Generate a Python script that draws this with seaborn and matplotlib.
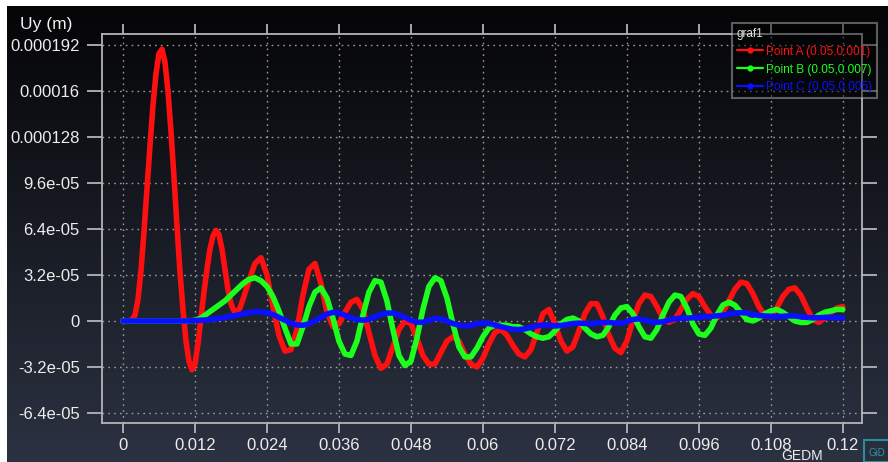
import numpy as np
import pandas as pd
import matplotlib
matplotlib.use("Agg")
import matplotlib.pyplot as plt
from matplotlib.lines import Line2D
from matplotlib.patches import Rectangle
import seaborn as sns

# ---- data: time in ms, vertical displacement in micrometres ----
time_a_ms = [0, 1, 1.5, 2, 2.5, 3, 3.5, 4, 4.5, 5, 5.5, 6, 6.5, 7, 7.5, 8, 8.5, 9, 9.5, 10,
             10.5, 11, 11.5, 12, 12.5, 13, 13.5, 14, 14.5, 15, 15.5, 16, 16.5, 17, 17.5, 18,
             18.5, 19, 19.5, 20, 21, 22, 23, 24, 25, 26, 27, 28, 29, 30, 31, 32, 33, 34, 35,
             36, 37, 38, 39, 40, 41, 42, 43, 44, 45, 46, 47, 48, 49, 50, 51, 52, 53, 54, 55,
             56, 57, 58, 59, 60, 61, 62, 63, 64, 65, 66, 67, 68, 69, 70, 71, 72, 73, 74, 75,
             76, 77, 78, 79, 80, 81, 82, 83, 84, 85, 86, 87, 88, 89, 90, 91, 92, 93, 94, 95,
             96, 97, 98, 99, 100, 101, 102, 103, 104, 105, 106, 107, 108, 109, 110, 111, 112,
             113, 114, 115, 116, 117, 118, 119, 120]
uy_a_um = [0, 0, 1, 4, 15, 35, 62, 92, 122, 150, 172, 186, 189, 180, 160, 132, 100, 66, 34, 8,
           -14, -28, -34, -30, -16, 2, 20, 36, 50, 59, 63, 60, 50, 36, 22, 12,
           7, 6, 9, 15, 28, 40, 44, 32, 10, -10, -21, -20, -6, 18, 36, 40, 26, 6, -4,
           -2, 6, 13, 15, 8, -8, -24, -33, -30, -18, -6, 0, -2, -12, -24, -30, -30, -22, -14, -11,
           -14, -23, -30, -32, -26, -16, -8, -6, -10, -17, -23, -25, -20, -8, 5, 8, -2, -14, -21, -18,
           -7, 5, 12, 12, 3, -10, -19, -22, -14, 0, 12, 18, 17, 10, 2, -1, 1, 8, 15, 19,
           17, 10, 4, 2, 6, 14, 22, 27, 26, 19, 10, 4, 3, 9, 17, 22, 23,
           18, 9, 1, -1, 2, 6, 9, 10]

time_b_ms = list(range(0, 121))
uy_b_um = [0, 0, 0, 0, 0, 0, 0, 0, 0, 0, 0, 0, 0.5, 2, 5, 8, 11, 14, 18, 22,
           26, 29, 30, 28, 24, 17, 7, -5, -16, -16, -4, 10, 20, 23, 16, 2, -14, -23, -24, -14,
           4, 20, 28, 27, 14, -6, -24, -31, -28, -12, 8, 24, 30, 28, 16, -2, -18, -25, -25, -19,
           -11, -5, -3, -3, -3, -4, -4, -6, -9, -11, -12, -11, -7, -2, 1, 2, 0, -5, -9, -11,
           -10, -4, 4, 9, 10, 5, -4, -11, -12, -6, 4, 13, 18, 17, 9, -2, -9, -10, -5, 4,
           11, 13, 11, 6, 1, 0, 2, 5, 7, 8, 6, 3, 0, -1, -1, 1, 4, 6, 7, 8, 8]

time_c_ms = list(range(0, 121))
uy_c_um = [0, 0, 0, 0, 0, 0, 0, 0, 0, 0, 0, 0, 0.3, 0.5, 0.8, 1.2, 1.8, 2.5, 3.2, 4,
           5, 5.8, 6.3, 6.3, 5.8, 4.5, 2.5, 0.5, -1.5, -2.8, -3, -2, 0, 2.5, 4.8, 6, 5.5, 4, 2.2, 1,
           0.5, 1.2, 2.8, 4.5, 5.5, 5.5, 4.2, 2.5, 0.5, -0.8, -1, 0.5, 1.8, 1.5, 0, -1.8, -3, -3.5, -3, -2,
           -1.5, -1.8, -2.8, -4, -5, -5.8, -6, -5.5, -4.5, -3.5, -2.8, -3, -3.5, -3.2, -2.5, -1.8, -1.5, -1.8, -2, -1.5,
           -1, -1, -1.5, -1.5, -0.5, 1, 1.5, 0.5, -0.5, -1, -0.5, 0.5, 1.5, 2, 2, 2.2, 2.5, 3, 3.2, 3.5,
           4, 4.8, 5.5, 5.8, 5.5, 4.5, 3.8, 3.5, 3.2, 3, 3.2, 3.5, 3.5, 3, 2.5, 2.2, 2.2, 2.5, 2.5, 2.2, 2]

series_names = ["Point A (0.05,0.001)", "Point B (0.05,0.007)", "Point C (0.05,0.005)"]
series_colors = ["#ff1010", "#1cff1c", "#0a10ff"]

x_tick_labels = ["0", "0.012", "0.024", "0.036", "0.048", "0.06", "0.072",
                 "0.084", "0.096", "0.108", "0.12"]
y_tick_labels = ["-6.4e-05", "-3.2e-05", "0", "3.2e-05", "6.4e-05", "9.6e-05",
                 "0.000128", "0.00016", "0.000192"]

# ---- long-form table ----
frames = []
for name, t, u in zip(series_names,
                      [time_a_ms, time_b_ms, time_c_ms],
                      [uy_a_um, uy_b_um, uy_c_um]):
    frames.append(pd.DataFrame({"t": np.array(t) / 1000.0,
                                "uy": np.array(u) * 1e-6,
                                "point": name}))
df = pd.concat(frames, ignore_index=True)

sns.set_theme(style="dark")
plt.rcParams["font.family"] = ["Liberation Sans", "DejaVu Sans"]

W, H = 888, 462
fig = plt.figure(figsize=(W / 100, H / 100), dpi=100)
fig.patch.set_facecolor("white")

# dark vertical gradient panel
bg = fig.add_axes([7 / W, 0, (W - 7) / W, (H - 6) / H], zorder=-10)
grad = np.linspace(0, 1, 256)[:, None]
top = np.array([0.02, 0.02, 0.027])
bottom = np.array([0.17, 0.195, 0.255])
img = top[None, None, :] * (1 - grad[..., None]) + bottom[None, None, :] * grad[..., None]
img = np.repeat(img, 4, axis=1)
bg.imshow(img, aspect="auto", extent=[0, 1, 0, 1], origin="upper")
bg.set_axis_off()

ax = fig.add_axes([102 / W, (H - 423) / H, 760 / W, 389 / H])
ax.set_facecolor("none")

sns.lineplot(data=df, x="t", y="uy", hue="point", palette=series_colors,
             hue_order=series_names, estimator=None, sort=False,
             linewidth=4.0, legend=False, ax=ax, zorder=3)
for ln in ax.get_lines():
    ln.set_solid_joinstyle("round")
    ln.set_solid_capstyle("round")

ax.set_xlim(-0.0035, 0.1232)
ax.set_ylim(-7.1e-5, 1.9965e-4)
ax.set_xticks([float(s) for s in x_tick_labels])
ax.set_xticklabels(x_tick_labels)
ax.set_yticks([float(s) for s in y_tick_labels])
ax.set_yticklabels(y_tick_labels)
ax.set_xlabel("")
ax.set_ylabel("")

spine_c = "#b4b4b8"
for sp in ax.spines.values():
    sp.set_visible(True)
    sp.set_color(spine_c)
    sp.set_linewidth(1.3)

ax.tick_params(axis="y", which="major", direction="out", length=11, width=1.3,
               color=spine_c, left=True, right=True, labelleft=True, labelright=False,
               labelsize=12, labelcolor="#ececec", pad=5)
ax.tick_params(axis="x", which="major", direction="out", length=7, width=1.3,
               color=spine_c, bottom=True, top=True, labelbottom=True, labeltop=False,
               labelsize=12, labelcolor="#ececec", pad=4)

ax.grid(True, color="#9a9a9e", linestyle=(0, (1.2, 3)), linewidth=1.0, zorder=1)

# legend
handles = [Line2D([0], [0], color=c, lw=1.6, marker="o", markersize=3.5) for c in series_colors]
leg = ax.legend(handles, series_names, title="graf1", loc="upper right",
                bbox_to_anchor=(877 / W, (H - 23) / H), bbox_transform=fig.transFigure,
                borderaxespad=0, frameon=True, fancybox=False, facecolor="black",
                edgecolor="#c8c8c8", framealpha=0.45, fontsize=8.5, title_fontsize=8.5,
                handlelength=2.2, handletextpad=0.3, labelspacing=0.5, borderpad=0.4,
                alignment="left")
leg.get_frame().set_linewidth(1.5)
leg.get_title().set_color("#e0e0e0")
for txt, c in zip(leg.get_texts(), series_colors):
    txt.set_color(c)

# header and footer texts
fig.text(20 / W, 1 - 24 / H, "Uy (m)", ha="left", va="center", fontsize=12.5, color="#f2f2f2")
fig.text(823 / W, 1.5 / H, "GEDM", ha="right", va="baseline", fontsize=10, color="#ececec")

# small product badge in the bottom-right corner
fig.patches.append(Rectangle((864 / W, 0), 30 / W, 22 / H, transform=fig.transFigure,
                             facecolor="#26303c", edgecolor="#2a8c9c", linewidth=1.5))
fig.text(868 / W, 9 / H, "GiD", ha="left", va="center", fontsize=7, color="#3a8e9c")

fig.savefig("out.png", dpi=100, facecolor=fig.get_facecolor())
